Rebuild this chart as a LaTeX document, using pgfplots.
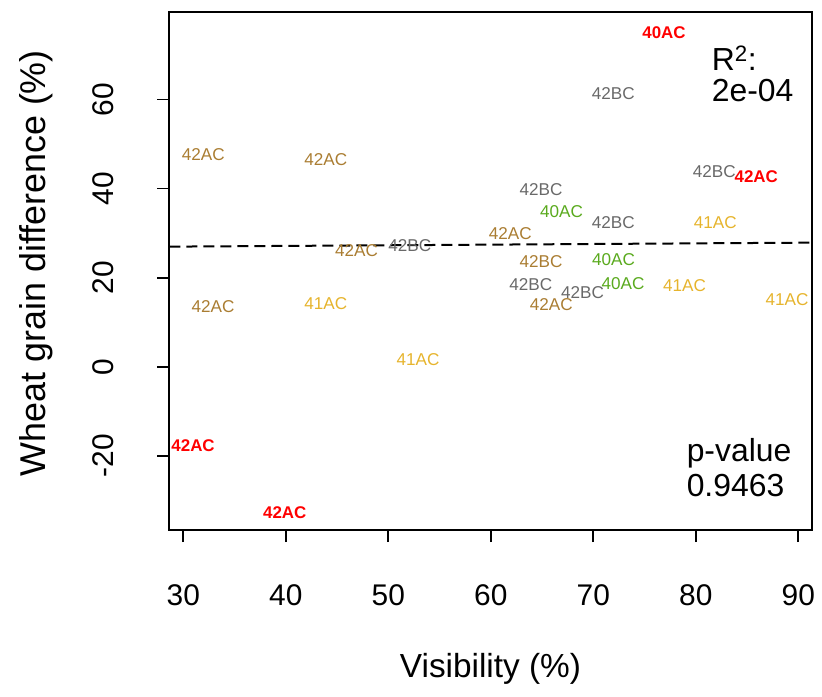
\documentclass[border=0pt]{standalone}
\usepackage{pgfplots}
\pgfplotsset{compat=1.18}
\usepackage{pgfplotstable}
\usepackage{fontspec}
\setmainfont{Liberation Sans}
\definecolor{cRed}{RGB}{255,0,0}
\definecolor{cGrey}{RGB}{105,105,105}
\definecolor{cGreen}{RGB}{90,170,30}
\definecolor{cYellow}{RGB}{230,180,45}
\definecolor{cBrown}{RGB}{170,125,50}

\pgfplotstableread{
x y label
76.9 74.9 40AC
85.9 42.6 42AC
30.95 -17.7 42AC
39.9 -32.7 42AC
}\redtab
\pgfplotstableread{
x y label
71.95 61.4 42BC
81.8 43.8 42BC
64.9 39.7 42BC
71.95 32.4 42BC
52.1 27.1 42BC
63.9 18.45 42BC
68.95 16.65 42BC
}\greytab
\pgfplotstableread{
x y label
66.9 34.8 40AC
71.97 23.95 40AC
72.9 18.7 40AC
}\greentab
\pgfplotstableread{
x y label
81.9 32.4 41AC
78.9 18.3 41AC
88.9 15.0 41AC
43.9 14.1 41AC
52.9 1.7 41AC
}\yellowtab
\pgfplotstableread{
x y label
61.9 29.9 42AC
64.9 23.7 42BC
65.9 13.85 42AC
31.95 47.7 42AC
43.9 46.6 42AC
46.9 26.0 42AC
32.9 13.5 42AC
}\browntab

\begin{document}
\begin{tikzpicture}
\begin{axis}[
  scale only axis, width=642.4bp, height=518.3bp,
  xmin=28.63, xmax=91.31, ymin=-36.66, ymax=79.69,
  xtick={30,40,...,90}, ytick={-20,0,20,40,60},
  tick pos=left,
  tick align=outside, major tick length=12bp,
  axis line style={line width=1.8bp},
  every tick/.style={black, line width=1.8bp},
  /pgf/number format/assume math mode=true,
  xticklabel style={font=\fontsize{30}{36}\selectfont, anchor=base, yshift=-63bp},
  yticklabel style={font=\fontsize{30}{36}\selectfont, xshift=-44bp, rotate=90, anchor=base},
  xlabel={Visibility (\%)}, ylabel={Wheat grain difference (\%)},
  xlabel style={at={(axis description cs:0.5,-0.2836)}, anchor=base, font=\fontsize{33.5}{40}\selectfont},
  ylabel style={at={(axis description cs:-0.192,0.515)}, rotate=0, anchor=base, font=\fontsize{36}{42}\selectfont},
  clip=false,
  every node near coord/.style={anchor=center, inner sep=0pt},
]
\addplot[black, dashed, line width=2bp, dash pattern=on 11bp off 6bp] coordinates {(28.63,26.95) (91.31,27.85)};
\addplot[draw=none, mark=none, nodes near coords, point meta=explicit symbolic,
  every node near coord/.append style={text=cRed, font=\fontsize{17}{20}\selectfont\bfseries}]
  table[x=x, y=y, meta=label] {\redtab};
\addplot[draw=none, mark=none, nodes near coords, point meta=explicit symbolic,
  every node near coord/.append style={text=cGrey, font=\fontsize{17.2}{20}\selectfont}]
  table[x=x, y=y, meta=label] {\greytab};
\addplot[draw=none, mark=none, nodes near coords, point meta=explicit symbolic,
  every node near coord/.append style={text=cGreen, font=\fontsize{17.2}{20}\selectfont}]
  table[x=x, y=y, meta=label] {\greentab};
\addplot[draw=none, mark=none, nodes near coords, point meta=explicit symbolic,
  every node near coord/.append style={text=cYellow, font=\fontsize{17.2}{20}\selectfont}]
  table[x=x, y=y, meta=label] {\yellowtab};
\addplot[draw=none, mark=none, nodes near coords, point meta=explicit symbolic,
  every node near coord/.append style={text=cBrown, font=\fontsize{17.2}{20}\selectfont}]
  table[x=x, y=y, meta=label] {\browntab};
\node[anchor=base west, inner sep=0pt, font=\fontsize{32}{38}\selectfont] at (axis cs:81.55,66.6) {R\textsuperscript{2}:};
\node[anchor=base west, inner sep=0pt, font=\fontsize{32}{38}\selectfont] at (axis cs:81.55,59.5) {2e-04};
\node[anchor=base west, inner sep=0pt, font=\fontsize{32}{38}\selectfont] at (axis cs:79.1,-21.3) {p-value};
\node[anchor=base west, inner sep=0pt, font=\fontsize{32}{38}\selectfont] at (axis cs:79.1,-29.2) {0.9463};
\end{axis}
\path (current axis.south west) ++(-169.3bp,-166bp) coordinate (bl);
\path (current axis.north east) ++(10.3bp,11.7bp) coordinate (tr);
\path (bl) rectangle (tr);
\end{tikzpicture}
\end{document}
